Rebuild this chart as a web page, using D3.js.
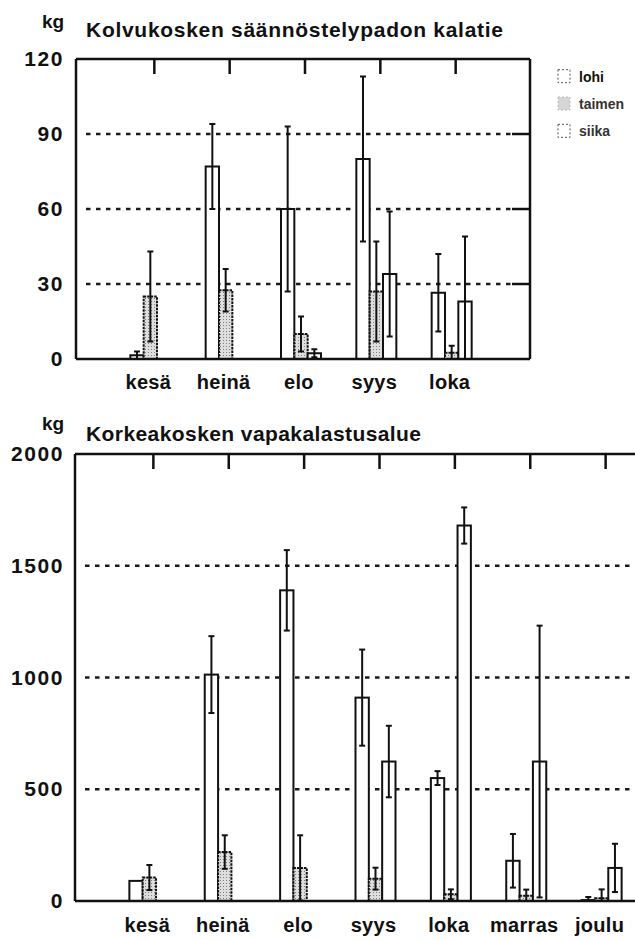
<!DOCTYPE html>
<html>
<head>
<meta charset="utf-8">
<script src="https://cdn.jsdelivr.net/npm/d3@7"></script>
<style>
  html, body { margin: 0; padding: 0; background: #fff; }
  svg { display: block; }
</style>
</head>
<body>
<svg id="chart" width="635" height="940"></svg>
<script>
// Catch per month (kg), mean and standard deviation, for three species
const series = ["lohi", "taimen", "siika"];

// Kolvukoski fishway
const topMonths = ["kesä", "heinä", "elo", "syys", "loka"];
const topLohi = [1.5, 77, 60, 80, 26.5];
const topLohiSd = [1.5, 17, 33, 33, 15.5];
const topTaimen = [25, 27.5, 10, 27, 2.5];
const topTaimenSd = [18, 8.5, 7, 20, 2.8];
const topSiika = [0, 0, 2.3, 34, 23];
const topSiikaSd = [0, 0, 1.6, 25, 26];
const topTicks = [0, 30, 60, 90, 120];
const topGrid = [30, 60, 90];

// Korkeakoski recreational fishing area
const bottomMonths = ["kesä", "heinä", "elo", "syys", "loka", "marras", "joulu"];
const bottomLohi = [90, 1013, 1390, 910, 550, 180, 4];
const bottomLohiSd = [0, 172, 180, 215, 31, 120, 14];
const bottomTaimen = [105, 219, 148, 100, 30, 24, 12];
const bottomTaimenSd = [56, 75, 146, 49, 22, 27, 40];
const bottomSiika = [0, 0, 0, 624, 1680, 624, 148];
const bottomSiikaSd = [0, 0, 0, 160, 81, 608, 108];
const bottomTicks = [0, 500, 1000, 1500, 2000];
const bottomGrid = [500, 1000, 1500];

const FONT = "'Liberation Sans', Arial, Helvetica, sans-serif";
const svg = d3.select("#chart");
svg.append("rect").attr("width", 635).attr("height", 940).attr("fill", "#fff");

// stippled fill for taimen
const defs = svg.append("defs");
const pat = defs.append("pattern").attr("id", "stipple")
  .attr("width", 3).attr("height", 3).attr("patternUnits", "userSpaceOnUse");
pat.append("rect").attr("width", 3).attr("height", 3).attr("fill", "#dedede");
pat.append("rect").attr("x", 1).attr("y", 1).attr("width", 1).attr("height", 1).attr("fill", "#808080");

function drawChart(cfg) {
  const g = svg.append("g");
  const x = d3.scaleLinear().domain([0, cfg.slots]).range(cfg.xRange);
  const y = d3.scaleLinear().domain(cfg.yDomain).range(cfg.yRange);
  const inner = d3.scaleBand().domain(series).range([-24, 16]);
  const yTop = y(cfg.yDomain[1]);
  const yBot = y(0);

  // unit and title
  g.append("text").attr("x", 42).attr("y", cfg.unitY)
    .attr("font-family", FONT).attr("font-weight", "bold").attr("font-size", 19)
    .attr("fill", "#111")
    .text("kg");
  g.append("text").attr("x", 86).attr("y", cfg.titleY)
    .attr("font-family", FONT).attr("font-weight", "bold").attr("font-size", 21)
    .attr("textLength", cfg.titleLength).attr("lengthAdjust", "spacing")
    .attr("fill", "#111")
    .text(cfg.title);

  // y tick labels
  const axis = g.append("g").attr("transform", "translate(64,0)")
    .call(d3.axisLeft(y).tickValues(cfg.ticks).tickSize(0).tickPadding(0).tickFormat(d3.format("d")));
  axis.select(".domain").remove();
  axis.selectAll("text")
    .attr("font-family", FONT).attr("font-weight", "bold").attr("font-size", 21)
    .attr("letter-spacing", 1.6).attr("fill", "#111");

  // dotted gridlines
  g.selectAll(".grid").data(cfg.grid).join("line").attr("class", "grid")
    .attr("x1", cfg.frameLeft + 10).attr("x2", cfg.gridEnd)
    .attr("y1", d => y(d)).attr("y2", d => y(d))
    .attr("stroke", "#1a1a1a").attr("stroke-width", 2.5).attr("stroke-dasharray", "4.5 5.5");
  if (cfg.frameRight) {
    g.selectAll(".rtick").data(cfg.grid).join("line").attr("class", "rtick")
      .attr("x1", cfg.frameRight - 18).attr("x2", cfg.frameRight)
      .attr("y1", d => y(d)).attr("y2", d => y(d))
      .attr("stroke", "#111").attr("stroke-width", 2.5);
  }

  // bars
  const rows = [];
  cfg.months.forEach((m, i) => {
    series.forEach(s => {
      rows.push({ i, s, v: cfg.values[s][i], sd: cfg.sds[s][i] });
    });
  });
  const shown = rows.filter(d => d.v > 0);
  const bw = inner.bandwidth();
  g.selectAll(".bar").data(shown).join("rect").attr("class", "bar")
    .attr("x", d => x(d.i + 1) + inner(d.s))
    .attr("width", bw)
    .attr("y", d => y(d.v))
    .attr("height", d => yBot - y(d.v))
    .attr("fill", d => d.s === "taimen" ? "url(#stipple)" : "#fff")
    .attr("stroke", "#111")
    .attr("stroke-width", 2)
    .attr("stroke-dasharray", d => d.s === "taimen" ? "2.5 1" : null);

  // error bars
  const errs = shown.filter(d => d.sd > 0);
  const cx = d => x(d.i + 1) + inner(d.s) + bw / 2;
  g.selectAll(".ev").data(errs).join("line").attr("class", "ev")
    .attr("x1", cx).attr("x2", cx)
    .attr("y1", d => y(d.v + d.sd)).attr("y2", d => y(Math.max(0, d.v - d.sd)))
    .attr("stroke", "#111").attr("stroke-width", 2);
  g.selectAll(".ecap").data(errs).join("line").attr("class", "ecap")
    .attr("x1", d => cx(d) - 3).attr("x2", d => cx(d) + 3)
    .attr("y1", d => y(d.v + d.sd)).attr("y2", d => y(d.v + d.sd))
    .attr("stroke", "#111").attr("stroke-width", 2);
  g.selectAll(".ecapl").data(errs.filter(d => d.v - d.sd > 0)).join("line").attr("class", "ecapl")
    .attr("x1", d => cx(d) - 3).attr("x2", d => cx(d) + 3)
    .attr("y1", d => y(d.v - d.sd)).attr("y2", d => y(d.v - d.sd))
    .attr("stroke", "#111").attr("stroke-width", 2);

  // frame
  const fr = cfg.frameRight || 700;
  const frame = g.append("g").attr("stroke", "#111").attr("stroke-width", 2.5).attr("fill", "none");
  frame.append("line").attr("x1", cfg.frameLeft).attr("x2", cfg.frameLeft).attr("y1", yTop).attr("y2", yBot);
  frame.append("line").attr("x1", cfg.frameLeft).attr("x2", fr).attr("y1", yTop).attr("y2", yTop);
  frame.append("line").attr("x1", cfg.frameLeft).attr("x2", fr).attr("y1", yBot).attr("y2", yBot);
  if (cfg.frameRight) {
    frame.append("line").attr("x1", fr).attr("x2", fr).attr("y1", yTop).attr("y2", yBot);
  }
  // month ticks hanging from the top edge
  frame.selectAll(".mtick").data(d3.range(1, cfg.slots)).join("line")
    .attr("x1", d => x(d)).attr("x2", d => x(d))
    .attr("y1", yTop).attr("y2", yTop + 15);

  // month labels
  g.selectAll(".mlab").data(cfg.months).join("text").attr("class", "mlab")
    .attr("x", (m, i) => x(i + 1) - 6).attr("y", cfg.labelY)
    .attr("text-anchor", "middle")
    .attr("font-family", FONT).attr("font-weight", "bold").attr("font-size", 20)
    .attr("letter-spacing", 0.3).attr("fill", "#111")
    .text(m => m);
}

drawChart({
  title: "Kolvukosken säännöstelypadon kalatie",
  titleY: 37, titleLength: 417, unitY: 28,
  months: topMonths,
  values: { lohi: topLohi, taimen: topTaimen, siika: topSiika },
  sds: { lohi: topLohiSd, taimen: topTaimenSd, siika: topSiikaSd },
  ticks: topTicks, grid: topGrid,
  yDomain: [0, 120], yRange: [359, 59],
  slots: 6, xRange: [79, 531],
  frameLeft: 76, frameRight: 530, gridEnd: 512,
  labelY: 389
});

drawChart({
  title: "Korkeakosken vapakalastusalue",
  titleY: 441, titleLength: 335, unitY: 430,
  months: bottomMonths,
  values: { lohi: bottomLohi, taimen: bottomTaimen, siika: bottomSiika },
  sds: { lohi: bottomLohiSd, taimen: bottomTaimenSd, siika: bottomSiikaSd },
  ticks: bottomTicks, grid: bottomGrid,
  yDomain: [0, 2000], yRange: [901, 454],
  slots: 8, xRange: [78, 681],
  frameLeft: 75, frameRight: null, gridEnd: 635,
  labelY: 932
});

// legend
const legendY = d3.scaleBand().domain(series).range([63, 145]);
const leg = svg.append("g");
const items = leg.selectAll("g").data(series).join("g")
  .attr("transform", d => `translate(558,${legendY(d) + legendY.bandwidth() / 2})`);
items.append("rect").attr("x", 0).attr("y", -7).attr("width", 12).attr("height", 13)
  .attr("fill", d => d === "taimen" ? "#d6d6d6" : "#fff")
  .attr("stroke", d => d === "taimen" ? "#bbb" : "#555")
  .attr("stroke-width", 1).attr("stroke-dasharray", "2 2");
items.append("text").attr("x", 21).attr("y", 5)
  .attr("font-family", FONT).attr("font-weight", "bold").attr("font-size", 14)
  .attr("fill", d => d === "lohi" ? "#111" : "#333")
  .text(d => d);
</script>
</body>
</html>
